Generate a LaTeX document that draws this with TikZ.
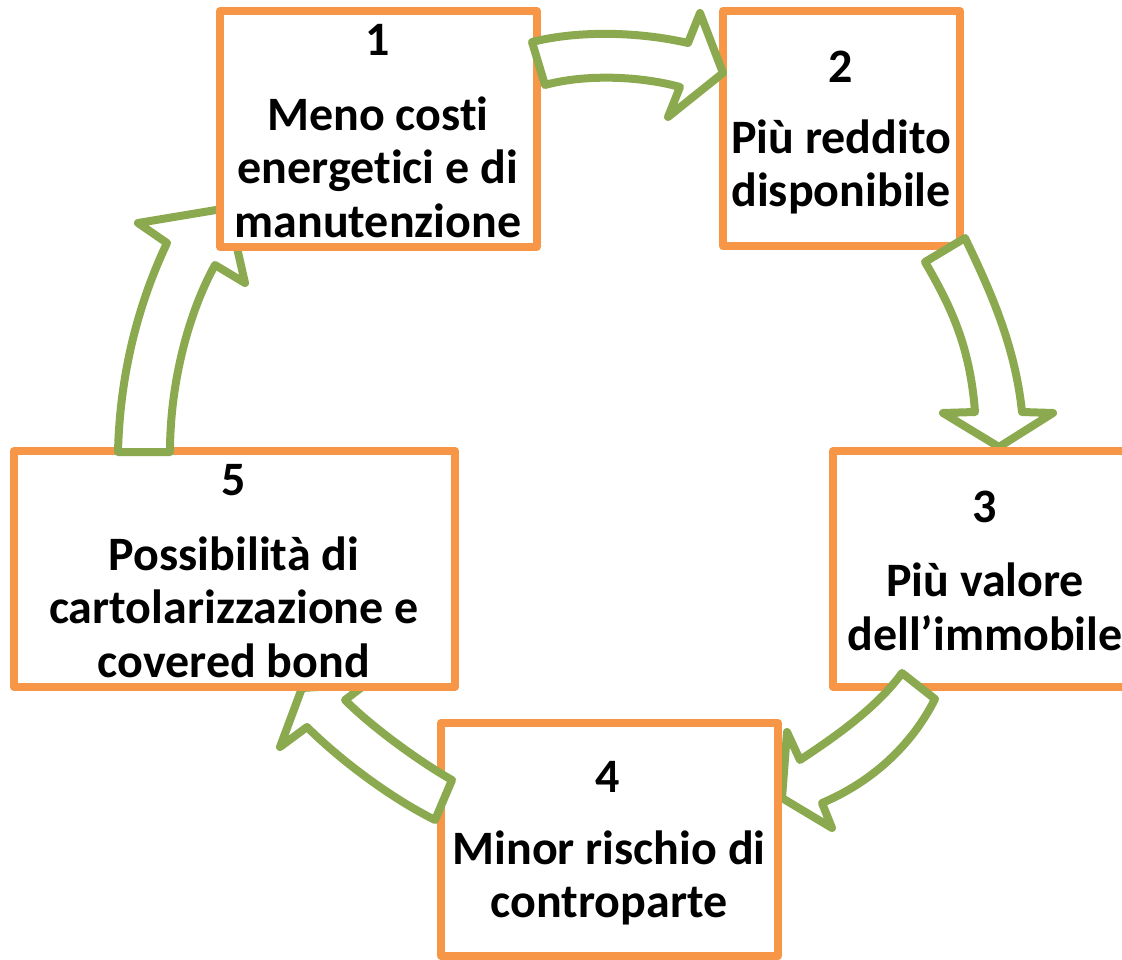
\documentclass[tikz,border=0pt]{standalone}
\usepackage{fontspec}
\setmainfont{Carlito}[Ligatures=NoCommon]
\definecolor{boxorange}{HTML}{F79646}
\definecolor{arrowgreen}{HTML}{8BAA4F}
\begin{document}
\begin{tikzpicture}[x=1pt,y=-1pt,
  stepbox/.style={draw=boxorange,line width=8pt,fill=white,inner sep=0pt,line join=round},
  blockarrow/.style={draw=arrowgreen,line width=8pt,fill=white,line join=round},
  numtext/.style={font=\fontsize{48}{54}\selectfont\bfseries,inner sep=0pt},
  bodytext/.style={font=\fontsize{48}{53.5}\selectfont\bfseries,align=center,inner sep=0pt}]
\useasboundingbox (0,0) rectangle (1122,960);
% box 2
\node[stepbox,minimum width=237pt,minimum height=235pt] (b2) at (841.5,128.5) {};
% arrow 2 -> 3
\draw[blockarrow] (925,262) -- (965,238) .. controls (990,290) and (1015,345) .. (1022,412)
  -- (1053,413) -- (999,447) -- (943,413) -- (975,412)
  .. controls (970,345) and (950,305) .. (925,262) -- cycle;
% box 3
\node[stepbox,minimum width=304pt,minimum height=236pt] (b3) at (985,569) {};
% arrow 3 -> 4
\draw[blockarrow] (902,673) -- (935,699) .. controls (912,745) and (872,782) .. (822,803)
  -- (832,828) -- (782,798) -- (787,732) -- (800,760)
  .. controls (830,740) and (875,710) .. (902,673) -- cycle;
% box 4
\node[stepbox,minimum width=337pt,minimum height=233pt] (b4) at (609.5,839.5) {};
% arrow 4 -> 5
\draw[blockarrow] (435,820) -- (452,780) .. controls (425,765) and (375,730) .. (345,700)
  -- (366,684) -- (302,688) -- (280,747) -- (307,727)
  .. controls (335,755) and (385,795) .. (435,820) -- cycle;
% box 5
\node[stepbox,minimum width=441pt,minimum height=236pt] (b5) at (234.5,569) {};
% arrow 5 -> 1
\draw[blockarrow] (118,452) -- (170,452) .. controls (170,380) and (190,310) .. (215,265)
  -- (245,283) -- (228,208) -- (138,223) -- (167,243)
  .. controls (140,300) and (120,370) .. (118,452) -- cycle;
% box 1
\node[stepbox,minimum width=316.5pt,minimum height=236pt] (b1) at (378.25,129) {};
% arrow 1 -> 2
\draw[blockarrow] (545,85) -- (532,42) .. controls (580,30) and (640,32) .. (688,43)
  -- (700,13) -- (723,73) -- (668,117) -- (680,87)
  .. controls (640,76) and (585,74) .. (545,85) -- cycle;
% texts
\node[numtext] (n1) at (378,40) {1};
\node[bodytext] (t1) at (378,167) {Meno costi\\energetici e di\\manutenzione};
\node[numtext] (n2) at (841,67) {2};
\node[bodytext] (t2) at (841,167) {Più reddito\\disponibile};
\node[numtext] (n3) at (985,507) {3};
\node[bodytext] (t3) at (985,607) {Più valore\\dell’immobile};
\node[numtext] (n4) at (608,777) {4};
\node[bodytext] (t4) at (609,878) {Minor rischio di\\controparte};
\node[numtext] (n5) at (234,480) {5};
\node[bodytext] (t5) at (234,607) {Possibilità di\\cartolarizzazione e\\covered bond};
\end{tikzpicture}
\end{document}
